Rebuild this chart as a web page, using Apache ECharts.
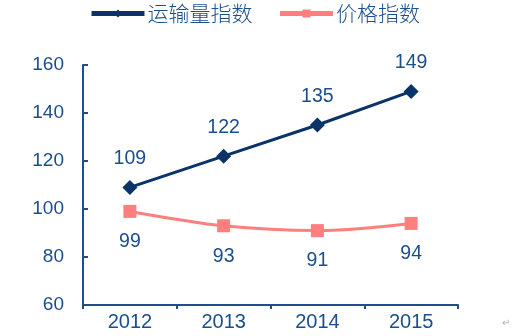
<!DOCTYPE html>
<html>
<head>
<meta charset="utf-8">
<script src="https://cdn.jsdelivr.net/npm/echarts@6/dist/echarts.min.js"></script>
<style>
  html, body { margin: 0; padding: 0; background: #fff; }
  #chart { width: 526px; height: 336px; }
</style>
</head>
<body>
<div id="chart"></div>
<script>
// Transport volume index vs. price index, 2012-2015
const years = ['2012', '2013', '2014', '2015'];
const volumeIndex = [109, 122, 135, 149];
const priceIndex = [99, 93, 91, 94];
const volumeName = '运输量指数';
const priceName = '价格指数';

const textColor = '#1b4e8c';
const axisColor = '#1f4e8c';
const navy = '#0a3467';
const salmon = '#ff7f7f';
const font = '"Liberation Sans", Arial, sans-serif';

const chart = echarts.init(document.getElementById('chart'));
chart.setOption({
  animation: false,
  textStyle: { fontFamily: font },
  legend: {
    top: 3,
    left: 89,
    padding: 0,
    itemWidth: 53,
    itemHeight: 10,
    itemGap: 25,
    lineStyle: { width: 5 },
    textStyle: {
      color: textColor,
      fontSize: 21,
      fontFamily: '"Noto Sans CJK SC", sans-serif',
      fontWeight: 300,
      padding: [0, 0, 0, -2]
    },
    data: [volumeName, priceName]
  },
  grid: { left: 83, right: 68, top: 65, bottom: 31 },
  xAxis: {
    type: 'category',
    data: years,
    boundaryGap: true,
    axisLine: { lineStyle: { color: axisColor, width: 2 } },
    axisTick: { show: true, length: 4, lineStyle: { color: axisColor, width: 2 } },
    axisLabel: { color: textColor, fontSize: 20, margin: 7 }
  },
  yAxis: {
    type: 'value',
    min: 60,
    max: 160,
    interval: 20,
    axisLine: { show: true, lineStyle: { color: axisColor, width: 2 } },
    axisTick: { show: true, inside: true, length: 5, lineStyle: { color: axisColor, width: 2 } },
    splitLine: { show: false },
    axisLabel: { color: textColor, fontSize: 19, margin: 19 }
  },
  series: [
    {
      name: volumeName,
      type: 'line',
      data: volumeIndex,
      symbol: 'diamond',
      symbolSize: 15,
      itemStyle: { color: navy },
      lineStyle: { color: navy, width: 3 },
      label: {
        show: true,
        position: 'top',
        distance: 11,
        color: textColor,
        fontSize: 19.5
      }
    },
    {
      name: priceName,
      type: 'line',
      data: priceIndex,
      smooth: 0.3,
      symbol: 'rect',
      symbolSize: 13,
      itemStyle: { color: salmon },
      lineStyle: { color: salmon, width: 3 },
      label: {
        show: true,
        position: 'bottom',
        distance: 14,
        color: textColor,
        fontSize: 19.5
      }
    }
  ],
  graphic: [
    {
      type: 'text',
      left: 502,
      top: 318,
      style: { text: '↵', fill: '#b0b0b0', fontSize: 10 }
    }
  ]
});
</script>
</body>
</html>
